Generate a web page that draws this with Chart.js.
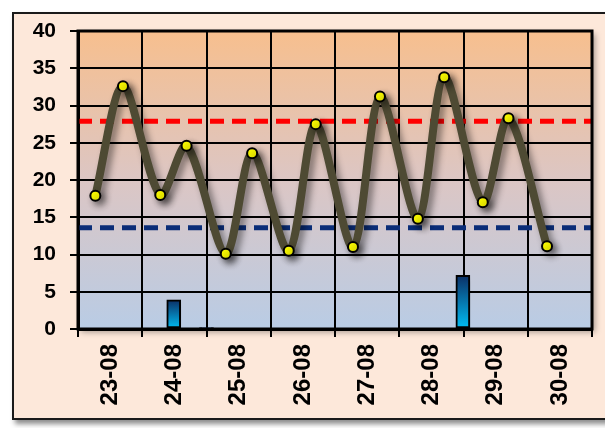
<!DOCTYPE html>
<html>
<head>
<meta charset="utf-8">
<script src="https://cdn.jsdelivr.net/npm/chart.js@4.4.0/dist/chart.umd.min.js"></script>
<style>
    html, body { margin: 0; padding: 0; background: #fff; }
    #wrap { position: relative; width: 605px; height: 428px; overflow: hidden; }
    #frame {
        position: absolute; left: 12px; top: 12px; width: 620px; height: 404px;
        background: #fde8da; border: 2px solid #1a1a1a;
        box-shadow: 3px 4px 5px rgba(0,0,0,0.45);
    }
    #chart { position: absolute; left: 0; top: 0; }
</style>
</head>
<body>
<div id="wrap">
    <div id="frame"></div>
    <canvas id="chart" width="605" height="428"></canvas>
</div>
<script>
const days = ['23-08', '24-08', '25-08', '26-08', '27-08', '28-08', '29-08', '30-08'];

const tempTimes = [0.27, 0.70, 1.28, 1.69, 2.30, 2.71, 3.28, 3.70, 4.28, 4.70, 5.29, 5.70, 6.30, 6.70, 7.30];
const tempValues = [17.9, 32.6, 18.0, 24.6, 10.1, 23.6, 10.5, 27.5, 11.0, 31.2, 14.8, 33.8, 17.0, 28.3, 11.1];

const rainTimes = [1.49, 2.0, 5.99];
const rainValues = [3.9, 0.2, 7.2];

const upperLimit = 27.9;
const lowerLimit = 13.6;

const yMin = 0, yMax = 40, yStep = 5;

const toPoints = (xs, ys) => xs.map((x, i) => ({ x: x, y: ys[i] }));

const plotBackground = {
    id: 'plotBackground',
    beforeDraw(chart) {
        const { ctx, chartArea: a } = chart;
        const g = ctx.createLinearGradient(0, a.top, 0, a.bottom);
        g.addColorStop(0, '#f7bf8e');
        g.addColorStop(0.5, '#dcc6c4');
        g.addColorStop(1, '#b9cce5');
        ctx.save();
        ctx.shadowColor = 'rgba(0,0,0,0.35)';
        ctx.shadowBlur = 6;
        ctx.shadowOffsetX = 3;
        ctx.shadowOffsetY = 3;
        ctx.fillStyle = g;
        ctx.fillRect(a.left, a.top, a.right - a.left, a.bottom - a.top);
        ctx.restore();
    },
    afterDraw(chart) {
        const { ctx, chartArea: a } = chart;
        ctx.save();
        ctx.strokeStyle = '#000';
        ctx.lineWidth = 3;
        ctx.strokeRect(a.left, a.top, a.right - a.left, a.bottom - a.top);
        ctx.restore();
    }
};

const shadowed = {
    id: 'shadowed',
    beforeDatasetDraw(chart, args) {
        const ds = chart.data.datasets[args.index];
        if (!ds.shadow) return;
        const ctx = chart.ctx;
        ctx.save();
        ctx.shadowColor = 'rgba(0,0,0,0.45)';
        ctx.shadowBlur = 7;
        ctx.shadowOffsetX = 4;
        ctx.shadowOffsetY = 4;
    },
    afterDatasetDraw(chart, args) {
        const ds = chart.data.datasets[args.index];
        if (!ds.shadow) return;
        chart.ctx.restore();
    }
};

// each bar: dark blue at its top fading to cyan at the base
function barFill(context) {
    const chart = context.chart;
    const a = chart.chartArea;
    if (!a || !context.raw) return '#0a6fb0';
    const top = chart.scales.y.getPixelForValue(context.raw.y);
    const g = chart.ctx.createLinearGradient(0, top, 0, a.bottom);
    g.addColorStop(0, '#0b2f66');
    g.addColorStop(1, '#00bff5');
    return g;
}

new Chart(document.getElementById('chart'), {
    data: {
        labels: days,
        datasets: [
            {
                type: 'line',
                label: 'Temperatura',
                xAxisID: 'xl',
                data: toPoints(tempTimes, tempValues),
                borderColor: '#4e4a33',
                borderWidth: 8,
                tension: 0.3,
                pointRadius: 5,
                pointBackgroundColor: '#ffff00',
                pointBorderColor: '#000',
                pointBorderWidth: 2,
                shadow: true
            },
            {
                type: 'line',
                label: 'Máx',
                xAxisID: 'xl',
                data: toPoints([0, 8], [upperLimit, upperLimit]),
                borderColor: '#ff0000',
                borderWidth: 5,
                borderDash: [14, 8],
                pointRadius: 0
            },
            {
                type: 'line',
                label: 'Mín',
                xAxisID: 'xl',
                data: toPoints([0, 8], [lowerLimit, lowerLimit]),
                borderColor: '#0a2d78',
                borderWidth: 5,
                borderDash: [14, 8],
                pointRadius: 0
            },
            {
                type: 'bar',
                label: 'Lluvia',
                xAxisID: 'xl',
                data: toPoints(rainTimes, rainValues),
                backgroundColor: barFill,
                borderColor: '#000',
                borderWidth: 2,
                borderSkipped: false,
                barThickness: 14,
                shadow: true
            }
        ]
    },
    options: {
        responsive: false,
        animation: false,
        events: [],
        layout: { padding: { top: 31, right: 13, left: 0, bottom: 0 } },
        plugins: {
            legend: { display: false },
            tooltip: { enabled: false }
        },
        scales: {
            x: {
                type: 'category',
                offset: true,
                afterFit: s => { s.height = 99; },
                grid: {
                    offset: true,
                    color: '#000',
                    lineWidth: 2,
                    tickLength: 8,
                    tickColor: '#000'
                },
                border: { color: '#000', width: 3 },
                ticks: {
                    color: '#000',
                    font: { family: 'Liberation Sans, Arial, sans-serif', size: 24, weight: 'bold' },
                    minRotation: 90,
                    maxRotation: 90,
                    padding: 7
                }
            },
            xl: {
                type: 'linear',
                display: false,
                offset: false,
                min: 0,
                max: 8
            },
            y: {
                min: yMin,
                max: yMax,
                afterFit: s => { s.width = 78; },
                grid: {
                    color: '#000',
                    lineWidth: 2,
                    tickLength: 8,
                    tickColor: '#000'
                },
                border: { color: '#000', width: 3 },
                ticks: {
                    stepSize: yStep,
                    color: '#000',
                    padding: 14,
                    font: { family: 'Liberation Sans, Arial, sans-serif', size: 21, weight: 'bold' }
                }
            }
        }
    },
    plugins: [plotBackground, shadowed]
});
</script>
</body>
</html>
